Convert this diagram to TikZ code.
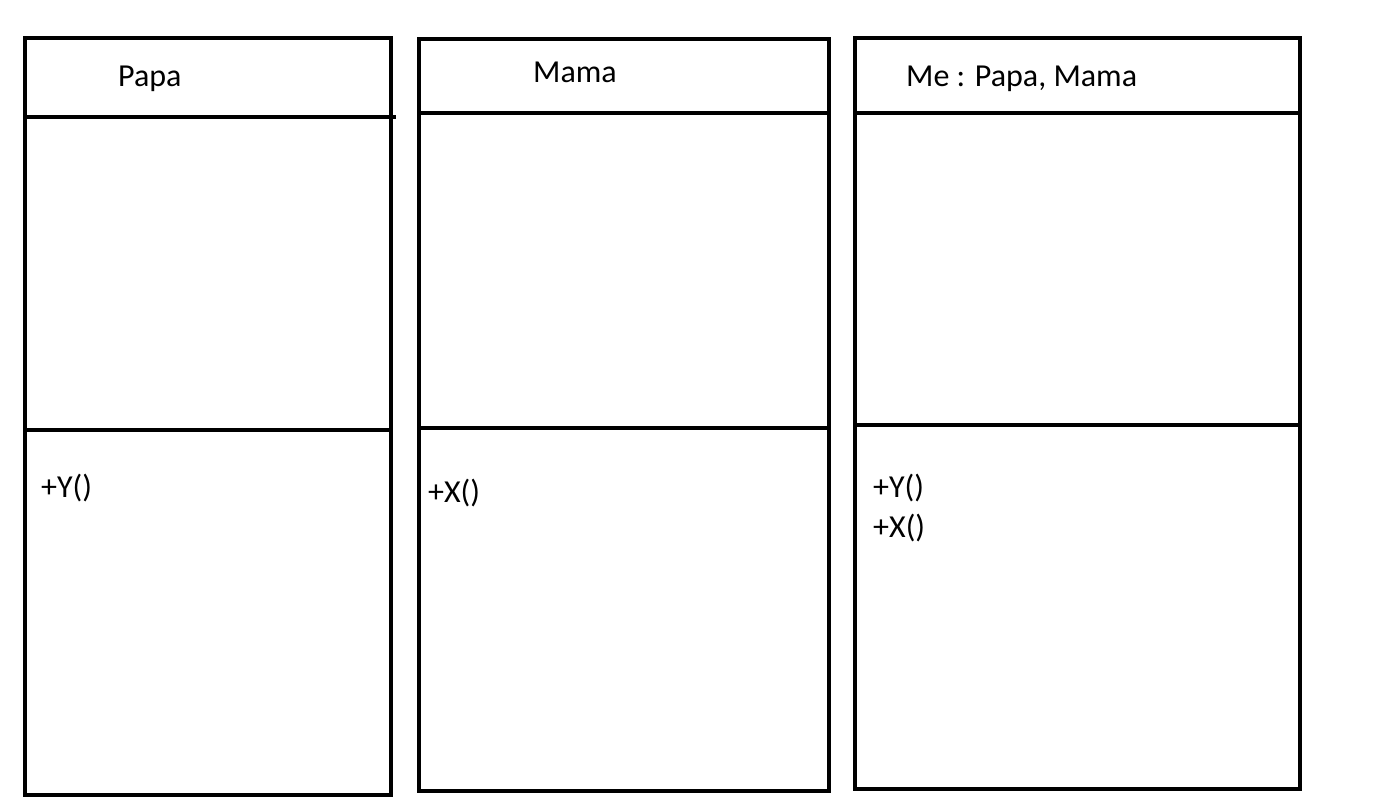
\documentclass[tikz,border=0pt]{standalone}
\usepackage{fontspec}
\setmainfont{Carlito}
\begin{document}
\begin{tikzpicture}[x=1pt,y=-1pt,
  frame/.style={draw=black,line width=4.5pt},
  lbl/.style={anchor=base west,inner sep=0pt,font=\fontsize{32}{38}\selectfont}]
\useasboundingbox[fill=white] (0,0) rectangle (1395,808);
% Papa
\draw[frame] (25,38) rectangle (391,795);
\draw[frame] (25,117) -- (396,117);
\draw[frame] (25,430) -- (391,430);
\node[lbl] (papa) at (118,86) {Papa};
\node[lbl] (papaop) at (41,497) {+Y()};
% Mama
\draw[frame] (419,39) rectangle (829,791);
\draw[frame] (419,113) -- (829,113);
\draw[frame] (419,428) -- (829,428);
\node[lbl] (mama) at (533,83) {Mama};
\node[lbl] (mamaop) at (428,502) {+X()};
% Me
\draw[frame] (855,38) rectangle (1300,789);
\draw[frame] (855,113) -- (1300,113);
\draw[frame] (855,425) -- (1300,425);
\node[lbl] (me) at (906,86) {Me : Papa, Mama};
\node[lbl] (meop1) at (873,497) {+Y()};
\node[lbl] (meop2) at (873,537) {+X()};
\end{tikzpicture}
\end{document}
